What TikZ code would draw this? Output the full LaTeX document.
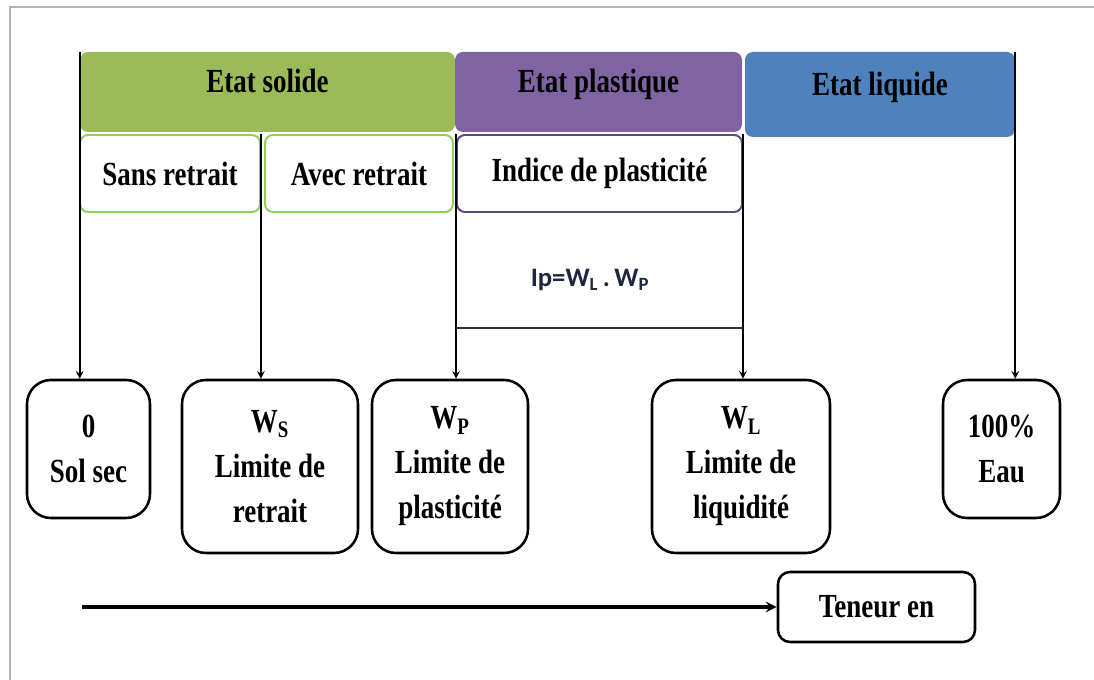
\documentclass[tikz,border=0pt]{standalone}
\usepackage{fontspec}
\setmainfont{Liberation Serif}[FakeStretch=0.8]
\newfontfamily\ipfont{Carlito}
\usepackage{tikz}
\usetikzlibrary{shapes.geometric, arrows}
\definecolor{solidGreen}{HTML}{9BBB59}
\definecolor{plastPurple}{HTML}{8064A2}
\definecolor{liqBlue}{HTML}{4F81BD}
\definecolor{lineGreen}{HTML}{8ED05A}
\definecolor{linePurple}{HTML}{5F497A}
\definecolor{ipText}{HTML}{1F2740}
\tikzstyle{etat} = [rectangle, rounded corners=0.2cm, minimum height=2cm, text centered, text depth=0.55cm, font=\fontsize{24}{28}\selectfont\bfseries]
\tikzstyle{sousEtat} = [rectangle, rounded corners=0.2cm, minimum height=1.925cm, line width=1.4pt, fill=white, text centered, font=\fontsize{24}{28}\selectfont\bfseries]
\tikzstyle{limite} = [rectangle, rounded corners=0.6cm, draw=black, line width=1.8pt, align=center, font=\fontsize{24}{32}\selectfont\bfseries]
\tikzstyle{arrow} = [line width=1.4pt,->,>=stealth]

\begin{document}
\begin{tikzpicture}
	\useasboundingbox (0,0) rectangle (27.35,17);
	\draw [gray!60, line width=1.4pt] (0.25,0) -- (0.25,16.825) -- (27.35,16.825);
	
	\node (solid) [etat, fill=solidGreen, minimum width=9.375cm] at (6.6875,14.7) {Etat solide};
	\node (plastic) [etat, fill=plastPurple, minimum width=7.175cm] at (14.9625,14.7) {Etat plastique};
	\node (liquid) [etat, fill=liqBlue, minimum width=6.75cm, minimum height=2.125cm] at (22.0,14.6375) {Etat liquide};
	
	\node (sans) [sousEtat, draw=lineGreen, minimum width=4.5cm] at (4.25,12.6625) {Sans retrait};
	\node (avec) [sousEtat, draw=lineGreen, minimum width=4.7cm] at (8.975,12.6625) {Avec retrait};
	\node (indice) [sousEtat, draw=linePurple, minimum width=7.125cm] at (14.9875,12.6625) {Indice de plasticité};
	
	\node (ip) [font=\ipfont\bfseries\fontsize{19}{22}\selectfont, text=ipText] at (14.75,10.0) {Ip=W\textsubscript{L}\,.\,W\textsubscript{P}};
	\coordinate (ipBase) at (14.99,8.8);
	
	\node (zero) [limite, minimum width=3.075cm, minimum height=3.45cm] at (2.2125,5.775) {0\\Sol sec};
	\node (ws) [limite, minimum width=4.4cm, minimum height=4.325cm] at (6.75,5.3375) {W\textsubscript{S}\\Limite de\\retrait};
	\node (wp) [limite, minimum width=3.9cm, minimum height=4.325cm] at (11.25,5.3375) {W\textsubscript{P}\\Limite de\\plasticité};
	\node (wl) [limite, minimum width=4.45cm, minimum height=4.325cm] at (18.525,5.3375) {W\textsubscript{L}\\Limite de\\liquidité};
	\node (eau) [limite, minimum width=2.925cm, minimum height=3.45cm] at (25.0375,5.775) {100\%\\Eau};
	
	\node (teneur) [limite, rounded corners=0.3cm, minimum width=4.925cm, minimum height=1.75cm] at (21.9125,1.825) {Teneur en};
	\coordinate (start) at (2.05,1.825);
	
	\draw [arrow] (solid.north west) -- (solid.north west |- zero.north);
	\draw [arrow] (sans.north east) -- (sans.north east |- ws.north);
	\draw [arrow] (indice.north west) -- (indice.north west |- wp.north);
	\draw [arrow] (indice.north east) -- (indice.north east |- wl.north);
	\draw [arrow] (liquid.north east) -- (liquid.north east |- eau.north);
	\draw [line width=1.4pt, black!80] (indice.west |- ipBase) -- (indice.east |- ipBase);
	\draw [arrow, line width=2.4pt] (start) -- (teneur);
\end{tikzpicture}
\end{document}
